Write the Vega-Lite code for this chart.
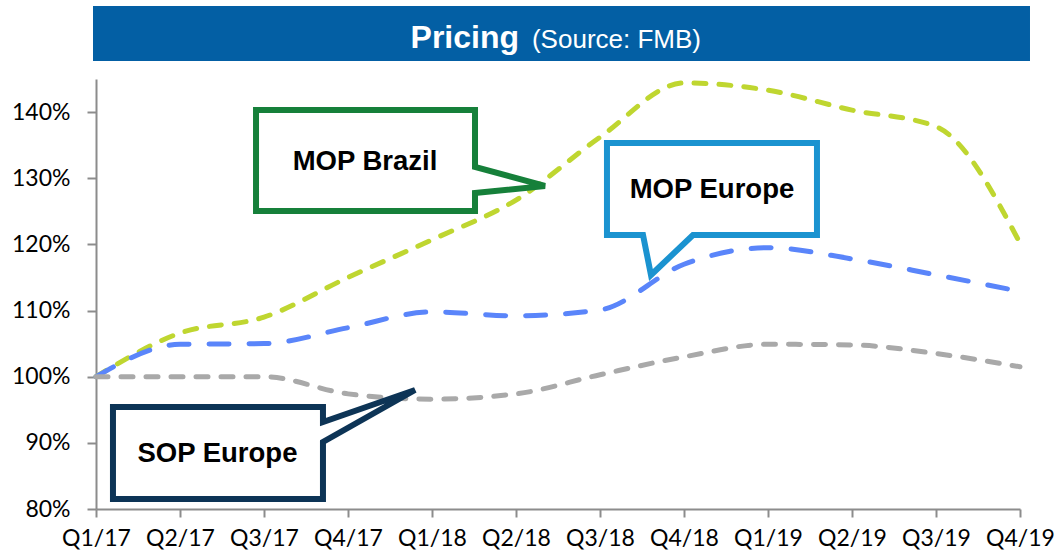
{
  "$schema": "https://vega.github.io/schema/vega-lite/v6.json",
  "width": 924,
  "height": 430,
  "autosize": {"type": "none"},
  "padding": {"left": 96, "top": 79, "right": 36, "bottom": 46},
  "background": "white",
  "config": {"view": {"stroke": null}},
  "datasets": {
    "series": [
      {"series": "MOP Brazil", "i": 0, "quarter": "Q1/17", "value": 100},
      {"series": "MOP Brazil", "i": 1, "quarter": "Q2/17", "value": 106.6},
      {"series": "MOP Brazil", "i": 2, "quarter": "Q3/17", "value": 109.0},
      {"series": "MOP Brazil", "i": 3, "quarter": "Q4/17", "value": 115.0},
      {"series": "MOP Brazil", "i": 4, "quarter": "Q1/18", "value": 120.7},
      {"series": "MOP Brazil", "i": 5, "quarter": "Q2/18", "value": 126.7},
      {"series": "MOP Brazil", "i": 6, "quarter": "Q3/18", "value": 136.2},
      {"series": "MOP Brazil", "i": 7, "quarter": "Q4/18", "value": 144.4},
      {"series": "MOP Brazil", "i": 8, "quarter": "Q1/19", "value": 143.3},
      {"series": "MOP Brazil", "i": 9, "quarter": "Q2/19", "value": 140.3},
      {"series": "MOP Brazil", "i": 10, "quarter": "Q3/19", "value": 137.8},
      {"series": "MOP Brazil", "i": 11, "quarter": "Q4/19", "value": 120.2},
      {"series": "MOP Europe", "i": 0, "quarter": "Q1/17", "value": 100},
      {"series": "MOP Europe", "i": 1, "quarter": "Q2/17", "value": 104.9},
      {"series": "MOP Europe", "i": 2, "quarter": "Q3/17", "value": 105.0},
      {"series": "MOP Europe", "i": 3, "quarter": "Q4/17", "value": 107.4},
      {"series": "MOP Europe", "i": 4, "quarter": "Q1/18", "value": 109.8},
      {"series": "MOP Europe", "i": 5, "quarter": "Q2/18", "value": 109.2},
      {"series": "MOP Europe", "i": 6, "quarter": "Q3/18", "value": 110.1},
      {"series": "MOP Europe", "i": 7, "quarter": "Q4/18", "value": 117.0},
      {"series": "MOP Europe", "i": 8, "quarter": "Q1/19", "value": 119.5},
      {"series": "MOP Europe", "i": 9, "quarter": "Q2/19", "value": 117.8},
      {"series": "MOP Europe", "i": 10, "quarter": "Q3/19", "value": 115.4},
      {"series": "MOP Europe", "i": 11, "quarter": "Q4/19", "value": 112.9},
      {"series": "SOP Europe", "i": 0, "quarter": "Q1/17", "value": 100},
      {"series": "SOP Europe", "i": 1, "quarter": "Q2/17", "value": 100},
      {"series": "SOP Europe", "i": 2, "quarter": "Q3/17", "value": 100},
      {"series": "SOP Europe", "i": 3, "quarter": "Q4/17", "value": 97.4},
      {"series": "SOP Europe", "i": 4, "quarter": "Q1/18", "value": 96.6},
      {"series": "SOP Europe", "i": 5, "quarter": "Q2/18", "value": 97.4},
      {"series": "SOP Europe", "i": 6, "quarter": "Q3/18", "value": 100.3},
      {"series": "SOP Europe", "i": 7, "quarter": "Q4/18", "value": 103.0},
      {"series": "SOP Europe", "i": 8, "quarter": "Q1/19", "value": 104.9},
      {"series": "SOP Europe", "i": 9, "quarter": "Q2/19", "value": 104.8},
      {"series": "SOP Europe", "i": 10, "quarter": "Q3/19", "value": 103.5},
      {"series": "SOP Europe", "i": 11, "quarter": "Q4/19", "value": 101.5}
    ],
    "callouts": [
      {"callout": "MOP Brazil", "k": 0, "cx": 1.905, "cy": 140.32},
      {"callout": "MOP Brazil", "k": 1, "cx": 4.512, "cy": 140.32},
      {"callout": "MOP Brazil", "k": 2, "cx": 4.512, "cy": 131.70},
      {"callout": "MOP Brazil", "k": 3, "cx": 5.345, "cy": 128.83},
      {"callout": "MOP Brazil", "k": 4, "cx": 4.512, "cy": 127.77},
      {"callout": "MOP Brazil", "k": 5, "cx": 4.512, "cy": 125.05},
      {"callout": "MOP Brazil", "k": 6, "cx": 1.905, "cy": 125.05},
      {"callout": "MOP Brazil", "k": 7, "cx": 1.905, "cy": 140.32},
      {"callout": "MOP Europe", "k": 0, "cx": 6.083, "cy": 135.33},
      {"callout": "MOP Europe", "k": 1, "cx": 8.583, "cy": 135.33},
      {"callout": "MOP Europe", "k": 2, "cx": 8.583, "cy": 121.42},
      {"callout": "MOP Europe", "k": 3, "cx": 7.107, "cy": 121.42},
      {"callout": "MOP Europe", "k": 4, "cx": 6.607, "cy": 115.37},
      {"callout": "MOP Europe", "k": 5, "cx": 6.512, "cy": 121.42},
      {"callout": "MOP Europe", "k": 6, "cx": 6.083, "cy": 121.42},
      {"callout": "MOP Europe", "k": 7, "cx": 6.083, "cy": 135.33},
      {"callout": "SOP Europe", "k": 0, "cx": 0.202, "cy": 95.42},
      {"callout": "SOP Europe", "k": 1, "cx": 2.702, "cy": 95.42},
      {"callout": "SOP Europe", "k": 2, "cx": 2.702, "cy": 93.15},
      {"callout": "SOP Europe", "k": 3, "cx": 3.798, "cy": 97.99},
      {"callout": "SOP Europe", "k": 4, "cx": 2.702, "cy": 90.13},
      {"callout": "SOP Europe", "k": 5, "cx": 2.702, "cy": 81.51},
      {"callout": "SOP Europe", "k": 6, "cx": 0.202, "cy": 81.51},
      {"callout": "SOP Europe", "k": 7, "cx": 0.202, "cy": 95.42}
    ],
    "labels": [
      {"label": "MOP Brazil", "lx": 3.202, "ly": 131.25},
      {"label": "MOP Europe", "lx": 7.333, "ly": 127.01},
      {"label": "SOP Europe", "lx": 1.446, "ly": 87.15}
    ],
    "banner": [
      {"bx1": -0.0357, "bx2": 11.119, "by1": 147.73, "by2": 156.04}
    ],
    "bannerText": [
      {"part": "title", "text": "Pricing", "tx": 5.036, "ty": 149.69},
      {"part": "source", "text": "(Source: FMB)", "tx": 5.19, "ty": 149.69}
    ]
  },
  "layer": [
    {
      "data": {"name": "series"},
      "mark": {"type": "line", "strokeWidth": 5, "strokeCap": "round", "interpolate": "monotone"},
      "encoding": {
        "x": {
          "field": "i", "type": "quantitative",
          "scale": {"domain": [0, 11], "nice": false, "zero": false},
          "axis": {
            "values": [0, 1, 2, 3, 4, 5, 6, 7, 8, 9, 10, 11],
            "labelExpr": "['Q1/17','Q2/17','Q3/17','Q4/17','Q1/18','Q2/18','Q3/18','Q4/18','Q1/19','Q2/19','Q3/19','Q4/19'][datum.value]",
            "title": null, "grid": false,
            "domainColor": "#8C8C8C", "domainWidth": 2,
            "tickColor": "#8C8C8C", "tickWidth": 2, "tickSize": 8,
            "labelFont": "Lato", "labelFontSize": 23, "labelColor": "#000000",
            "labelPadding": 10, "labelFlush": false, "labelOverlap": false
          }
        },
        "y": {
          "field": "value", "type": "quantitative",
          "scale": {"domain": [80, 145], "nice": false, "zero": false},
          "axis": {
            "values": [80, 90, 100, 110, 120, 130, 140],
            "labelExpr": "datum.value + '%'",
            "title": null, "grid": false,
            "domainColor": "#8C8C8C", "domainWidth": 2,
            "tickColor": "#8C8C8C", "tickWidth": 2, "tickSize": 9,
            "labelFont": "Lato", "labelFontSize": 23, "labelColor": "#000000",
            "labelPadding": 17, "labelFlush": false, "labelOverlap": false
          }
        },
        "color": {
          "field": "series", "type": "nominal",
          "scale": {"domain": ["MOP Brazil", "MOP Europe", "SOP Europe"], "range": ["#BFD630", "#5A85FA", "#A9A9A9"]},
          "legend": null
        },
        "strokeDash": {
          "field": "series", "type": "nominal",
          "scale": {"domain": ["MOP Brazil", "MOP Europe", "SOP Europe"], "range": [[12, 13], [20, 20], [12, 13]]},
          "legend": null
        },
        "order": {"field": "i", "type": "quantitative"}
      }
    },
    {
      "data": {"name": "banner"},
      "mark": {"type": "rect", "color": "#035FA4", "clip": false},
      "encoding": {
        "x": {"field": "bx1", "type": "quantitative", "scale": {"domain": [0, 11], "nice": false, "zero": false}, "axis": {"title": null}},
        "x2": {"field": "bx2"},
        "y": {"field": "by1", "type": "quantitative", "scale": {"domain": [80, 145], "nice": false, "zero": false}, "axis": {"title": null}},
        "y2": {"field": "by2"}
      }
    },
    {
      "data": {"name": "bannerText"},
      "transform": [{"filter": "datum.part == 'title'"}],
      "mark": {"type": "text", "align": "right", "baseline": "alphabetic", "font": "Liberation Sans", "fontWeight": "bold", "fontSize": 32, "color": "white", "clip": false},
      "encoding": {
        "x": {"field": "tx", "type": "quantitative", "scale": {"domain": [0, 11], "nice": false, "zero": false}, "axis": {"title": null}},
        "y": {"field": "ty", "type": "quantitative", "scale": {"domain": [80, 145], "nice": false, "zero": false}, "axis": {"title": null}},
        "text": {"field": "text"}
      }
    },
    {
      "data": {"name": "bannerText"},
      "transform": [{"filter": "datum.part == 'source'"}],
      "mark": {"type": "text", "align": "left", "baseline": "alphabetic", "font": "Liberation Sans", "fontSize": 26, "color": "white", "clip": false},
      "encoding": {
        "x": {"field": "tx", "type": "quantitative", "scale": {"domain": [0, 11], "nice": false, "zero": false}, "axis": {"title": null}},
        "y": {"field": "ty", "type": "quantitative", "scale": {"domain": [80, 145], "nice": false, "zero": false}, "axis": {"title": null}},
        "text": {"field": "text"}
      }
    },
    {
      "data": {"name": "callouts"},
      "transform": [{"filter": "datum.callout == 'MOP Brazil'"}],
      "mark": {"type": "line", "color": "#16803A", "strokeWidth": 6, "strokeJoin": "miter", "strokeCap": "square"},
      "encoding": {
        "x": {"field": "cx", "type": "quantitative", "scale": {"domain": [0, 11], "nice": false, "zero": false}, "axis": {"title": null}},
        "y": {"field": "cy", "type": "quantitative", "scale": {"domain": [80, 145], "nice": false, "zero": false}, "axis": {"title": null}},
        "order": {"field": "k", "type": "quantitative"}
      }
    },
    {
      "data": {"name": "callouts"},
      "transform": [{"filter": "datum.callout == 'MOP Europe'"}],
      "mark": {"type": "line", "color": "#1B93D0", "strokeWidth": 6, "strokeJoin": "miter", "strokeCap": "square"},
      "encoding": {
        "x": {"field": "cx", "type": "quantitative", "scale": {"domain": [0, 11], "nice": false, "zero": false}, "axis": {"title": null}},
        "y": {"field": "cy", "type": "quantitative", "scale": {"domain": [80, 145], "nice": false, "zero": false}, "axis": {"title": null}},
        "order": {"field": "k", "type": "quantitative"}
      }
    },
    {
      "data": {"name": "callouts"},
      "transform": [{"filter": "datum.callout == 'SOP Europe'"}],
      "mark": {"type": "line", "color": "#0D3456", "strokeWidth": 6, "strokeJoin": "miter", "strokeCap": "square"},
      "encoding": {
        "x": {"field": "cx", "type": "quantitative", "scale": {"domain": [0, 11], "nice": false, "zero": false}, "axis": {"title": null}},
        "y": {"field": "cy", "type": "quantitative", "scale": {"domain": [80, 145], "nice": false, "zero": false}, "axis": {"title": null}},
        "order": {"field": "k", "type": "quantitative"}
      }
    },
    {
      "data": {"name": "labels"},
      "mark": {"type": "text", "align": "center", "baseline": "alphabetic", "font": "Liberation Sans", "fontWeight": "bold", "fontSize": 27.5, "color": "#000000"},
      "encoding": {
        "x": {"field": "lx", "type": "quantitative", "scale": {"domain": [0, 11], "nice": false, "zero": false}, "axis": {"title": null}},
        "y": {"field": "ly", "type": "quantitative", "scale": {"domain": [80, 145], "nice": false, "zero": false}, "axis": {"title": null}},
        "text": {"field": "label"}
      }
    }
  ]
}
